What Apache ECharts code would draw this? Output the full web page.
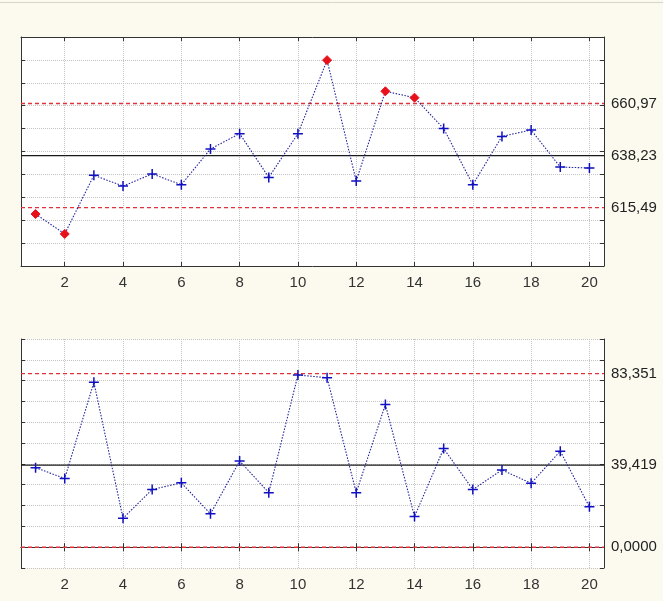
<!DOCTYPE html>
<html>
<head>
<meta charset="utf-8">
<script src="https://cdn.jsdelivr.net/npm/echarts@6/dist/echarts.min.js"></script>
<style>
html,body{margin:0;padding:0;background:#fcfaef;}
#c{width:663px;height:601px;}
</style>
</head>
<body>
<div id="c"></div>
<script>
// ---- data ----
const sampleNumbers = [1,2,3,4,5,6,7,8,9,10,11,12,13,14,15,16,17,18,19,20];
const xTickValues = [2,4,6,8,10,12,14,16,18,20];
const meanValues = [612.7,604.0,629.6,624.9,630.2,625.5,641.1,647.8,628.7,647.8,679.9,627.1,666.3,663.5,650.0,625.5,646.6,649.4,633.2,632.8];
const rangeValues = [38.2,33.0,79.2,13.9,27.7,30.9,16.0,41.4,26.2,82.7,81.4,26.2,68.5,14.7,47.4,27.7,37.1,30.7,46.1,19.4];
const meanLimits = [660.97, 638.23, 615.49];
const meanLimitLabels = ['660,97', '638,23', '615,49'];
const rangeLimits = [83.351, 39.419, 0.0];
const rangeLimitLabels = ['83,351', '39,419', '0,0000'];
const X_MIN = 0.5, X_MAX = 20.5;

const crossPath = 'path://M0,5L10,5M5,0L5,10';
const FONT = '"Liberation Sans", Arial, sans-serif';

function seriesData(vals, ucl, lcl) {
  return vals.map((v, i) => {
    const out = v > ucl || v < lcl;
    const item = { value: [sampleNumbers[i], v] };
    if (out) {
      item.symbol = 'diamond';
      item.symbolSize = 9;
      item.itemStyle = { color: '#e8101a', borderColor: '#e8101a', borderWidth: 1 };
    }
    return item;
  });
}

function limitSeries(xi, yi, value, label, isCenter) {
  const col = isCenter ? '#1a1a1a' : '#e4303a';
  return {
    type: 'line', xAxisIndex: xi, yAxisIndex: yi, silent: true, z: 2,
    data: [[X_MIN, value], [X_MAX, value]],
    symbol: 'none', clip: false,
    color: col,
    lineStyle: { color: col, width: isCenter ? 1.3 : 1.4, type: isCenter ? 'solid' : [4, 3] },
    endLabel: { show: true, formatter: label, distance: 7, color: '#222', fontSize: 15, fontFamily: FONT }
  };
}

const grids = [
  { left: 21, width: 583, top: 37, height: 229 },
  { left: 21, width: 583, top: 339, height: 229 }
];

function xAxes(gi) {
  return [
    {
      type: 'value', gridIndex: gi, min: X_MIN, max: X_MAX, position: 'bottom',
      axisLine: { show: true, lineStyle: { color: '#333', width: 1 } },
      axisTick: { show: true, inside: true, length: 4, customValues: xTickValues, lineStyle: { color: '#333' } },
      axisLabel: { show: true, customValues: xTickValues, margin: 9, color: '#333', fontSize: 15, fontFamily: FONT },
      splitLine: { show: true, lineStyle: { color: '#c4c4c4', type: [1, 1], width: 1 } }
    },
    {
      type: 'value', gridIndex: gi, min: X_MIN, max: X_MAX, position: 'top',
      axisLine: { show: true, lineStyle: { color: '#333', width: 1 } },
      axisTick: { show: true, inside: true, length: 4, customValues: xTickValues, lineStyle: { color: '#333' } },
      axisLabel: { show: false },
      splitLine: { show: false }
    }
  ];
}

function yAxes(gi, min, max) {
  return [
    {
      type: 'value', gridIndex: gi, min: min, max: max, interval: 10, position: 'left',
      axisLine: { show: true, lineStyle: { color: '#333', width: 1 } },
      axisTick: { show: true, inside: true, length: 4, lineStyle: { color: '#333' } },
      axisLabel: { show: false },
      splitLine: { show: true, lineStyle: { color: '#c4c4c4', type: [1, 1], width: 1 } }
    },
    {
      type: 'value', gridIndex: gi, min: min, max: max, interval: 10, position: 'right',
      axisLine: { show: true, lineStyle: { color: '#333', width: 1 } },
      axisTick: { show: true, inside: true, length: 4, lineStyle: { color: '#333' } },
      axisLabel: { show: false },
      splitLine: { show: false }
    }
  ];
}

const series = [];
meanLimits.forEach((v, i) => series.push(limitSeries(0, 0, v, meanLimitLabels[i], i === 1)));
rangeLimits.forEach((v, i) => series.push(limitSeries(2, 2, v, rangeLimitLabels[i], i === 1)));
series.push({
  type: 'line', xAxisIndex: 0, yAxisIndex: 0,
  data: seriesData(meanValues, meanLimits[0], meanLimits[2]),
  symbol: crossPath, symbolSize: 10,
  itemStyle: { color: '#1010c0', borderColor: '#1010c0', borderWidth: 1.5 },
  lineStyle: { color: '#23239e', width: 1.1, type: [1.5, 1.5] },
  z: 3
});
series.push({
  type: 'line', xAxisIndex: 2, yAxisIndex: 2,
  data: seriesData(rangeValues, Infinity, -Infinity),
  symbol: crossPath, symbolSize: 10,
  itemStyle: { color: '#1010c0', borderColor: '#1010c0', borderWidth: 1.5 },
  lineStyle: { color: '#23239e', width: 1.1, type: [1.5, 1.5] },
  z: 3
});

const option = {
  backgroundColor: '#fcfaef',
  animation: false,
  graphic: [
    { type: 'line', shape: { x1: 0, y1: 2.5, x2: 663, y2: 2.5 }, style: { stroke: '#d6d4cc', lineWidth: 1 } }
  ],
  grid: grids.map(g => Object.assign({ show: true, backgroundColor: '#ffffff', borderWidth: 0 }, g)),
  xAxis: [...xAxes(0), ...xAxes(1)],
  yAxis: [...yAxes(0, 590, 690), ...yAxes(1, -10, 100)],
  series: series
};

const chart = echarts.init(document.getElementById('c'), null, { renderer: 'canvas' });
chart.setOption(option);
</script>
</body>
</html>
